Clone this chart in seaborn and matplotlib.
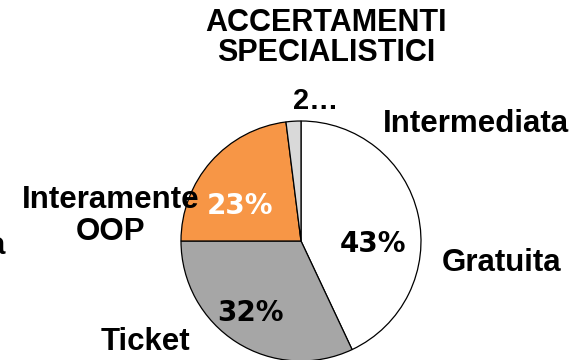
import matplotlib
matplotlib.use("Agg")
import matplotlib.pyplot as plt
import seaborn as sns

sns.set_theme(style="white")
plt.rcParams["font.family"] = ["Liberation Sans", "DejaVu Sans"]
plt.rcParams["text.color"] = "black"

# Accertamenti specialistici: quota per modalità di pagamento
categories = ["Gratuita", "Ticket", "Interamente\nOOP", "Intermediata"]
shares = [43, 32, 23, 2]
pct_labels = ["43%", "32%", "23%", "2…"]
colors = ["#FFFFFF", "#A6A6A6", "#F79646", "#D9D9D9"]
pct_colors = ["black", "black", "white", "black"]
title = "ACCERTAMENTI\nSPECIALISTICI"

W, H = 575, 360
fig = plt.figure(figsize=(W / 100, H / 100), dpi=100)
ax = fig.add_axes([0, 0, 1, 1])


def py(y):
    # position measured from the top edge, in figure pixels
    return H - y


cx, cy, r = 301, py(241), 120
ax.pie(
    shares, colors=colors, startangle=90, counterclock=False,
    center=(cx, cy), radius=r, frame=True,
    wedgeprops=dict(edgecolor="black", linewidth=0.9),
)
ax.set_xlim(0, W)
ax.set_ylim(0, H)
ax.set_aspect("equal")
ax.axis("off")

# category labels
label_pos = [(502, 263), (145, 342), (111, 216), (476, 124)]
for name, (x, y) in zip(categories, label_pos):
    ax.text(x, py(y), name, ha="center", va="center", fontsize=22.5,
            fontweight="bold", linespacing=1.05, color="black")

# percentage labels
pct_pos = [(373, 244), (250, 313), (240, 206)]
for txt, col, (x, y) in zip(pct_labels[:3], pct_colors[:3], pct_pos):
    ax.text(x, py(y), txt, ha="center", va="center", fontsize=20,
            fontweight="bold", color=col, family="DejaVu Sans")
ax.text(316, py(101), pct_labels[3], ha="center", va="center", fontsize=21,
        fontweight="bold", color=pct_colors[3])

ax.text(326, py(38), title, ha="center", va="center", fontsize=22,
        fontweight="bold", linespacing=1.0, color="black")

# clipped label fragment at the left edge
ax.text(5, py(246), "a", ha="right", va="center", fontsize=22.5,
        fontweight="bold", color="black")

fig.savefig("out.png", dpi=100)
